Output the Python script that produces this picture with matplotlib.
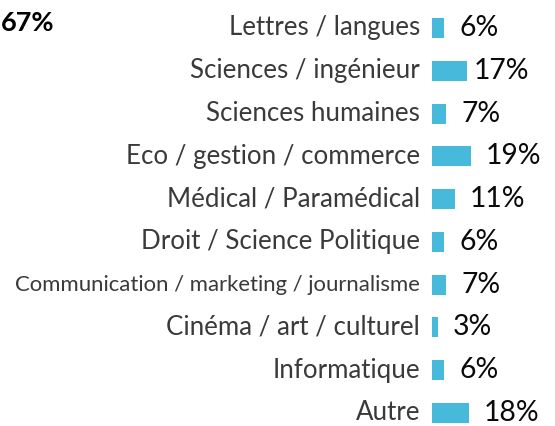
import matplotlib
matplotlib.use("Agg")
import matplotlib.pyplot as plt

categories = [
    "Lettres / langues",
    "Sciences / ingénieur",
    "Sciences humaines",
    "Eco / gestion / commerce",
    "Médical / Paramédical",
    "Droit / Science Politique",
    "Communication / marketing / journalisme",
    "Cinéma / art / culturel",
    "Informatique",
    "Autre",
]
values = [6, 17, 7, 19, 11, 6, 7, 3, 6, 18]
value_labels = ["6%", "17%", "7%", "19%", "11%", "6%", "7%", "3%", "6%", "18%"]
corner_label = "67%"

FONT = ["Lato", "DejaVu Sans"]
plt.rcParams['font.family'] = FONT

W, H, DPI = 555, 426, 100
fig = plt.figure(figsize=(W / DPI, H / DPI), dpi=DPI)
ax = fig.add_axes([0, 0, 1, 1])

px_per_unit = 2.05
x0 = 432
row0, rowN = 28, 413
step = (rowN - row0) / (len(categories) - 1)
ax.set_xlim(-x0 / px_per_unit, (W - x0) / px_per_unit)
ax.set_ylim(len(categories) - 1 + (H - rowN) / step, -row0 / step)
ax.axis("off")

ys = list(range(len(categories)))
ax.barh(ys, values, height=0.47, color="#47B9DB", left=0)

pt = 72 / DPI
cat_size = 18.6
small_size = 15.9
val_size = 20.4
for i, (cat, v, lab) in enumerate(zip(categories, values, value_labels)):
    size = small_size if len(cat) > 30 else cat_size
    ax.annotate(cat, xy=(0, i), xytext=(-12 * pt, 0), textcoords="offset points",
                ha="right", va="center", fontsize=size, color="#3A3A3A")
    gap = 7 if lab == "17%" else 15
    ax.annotate(lab, xy=(v, i), xytext=(gap * pt, 0), textcoords="offset points",
                ha="left", va="center", fontsize=val_size, color="#0A0A0A")

fig.text(1 / W, 1 - 23 / H, corner_label, ha="left", va="center",
         fontsize=19.5, fontweight="bold", color="#000000")

fig.savefig("out.png", dpi=DPI)
